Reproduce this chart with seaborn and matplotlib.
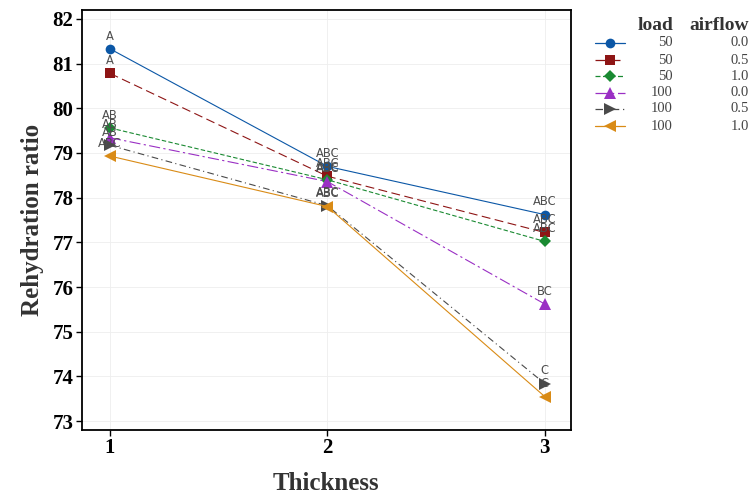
import matplotlib
matplotlib.use("Agg")
import matplotlib.pyplot as plt
from matplotlib.lines import Line2D
import seaborn as sns
import pandas as pd

thickness = [1, 2, 3]
loads = ["50", "50", "50", "100", "100", "100"]
airflows = ["0.0", "0.5", "1.0", "0.0", "0.5", "1.0"]
values = [
    [81.33, 78.70, 77.62],
    [80.78, 78.48, 77.22],
    [79.56, 78.40, 77.02],
    [79.34, 78.36, 75.62],
    [79.17, 77.82, 73.84],
    [78.93, 77.80, 73.55],
]
letters = [
    ["A", "ABC", "ABC"],
    ["A", "ABC", "ABC"],
    ["AB", "ABC", "ABC"],
    ["AB", "ABC", "BC"],
    ["AB", "ABC", "C"],
    ["ABC", "ABC", "C"],
]
colors = ["#0B57A6", "#8E1515", "#1A8A32", "#9A2FC4", "#4A4A4A", "#D98B16"]
markers = ["o", "s", "D", "^", ">", "<"]
msizes = [7, 7, 6, 8, 8, 8]
dash_styles = ["", (8, 4), (4, 2), (10, 3, 2, 3), (6, 3, 1, 3), ""]

rows = []
for i in range(6):
    for j, t in enumerate(thickness):
        rows.append({"series": i, "Thickness": t, "ratio": values[i][j], "lab": letters[i][j]})
df = pd.DataFrame(rows)

sns.set_theme(style="white")
plt.rcParams["font.family"] = ["DejaVu Sans"]

fig = plt.figure(figsize=(7.53, 4.96), dpi=100)
ax = fig.add_axes([0.1085, 0.133, 0.6495, 0.847])

palette = {i: colors[i] for i in range(6)}
sns.lineplot(data=df, x="Thickness", y="ratio", hue="series", style="series",
             palette=palette, markers={i: markers[i] for i in range(6)},
             dashes={i: dash_styles[i] for i in range(6)}, linewidth=0.8,
             markersize=7, markeredgewidth=0, legend=False, ax=ax, zorder=3)
for i, line in enumerate(ax.get_lines()[:6]):
    line.set_markersize(msizes[i])

for _, r in df.iterrows():
    ax.annotate(r["lab"], (r["Thickness"], r["ratio"]), xytext=(0, 4.5),
                textcoords="offset points", ha="center", va="bottom",
                fontsize=8.3, color="#4D4D4D", zorder=4)

ax.set_xlim(0.87, 3.12)
ax.set_ylim(72.8, 82.2)
ax.set_xticks(thickness)
ax.set_yticks(range(73, 83))
ax.grid(True, color="#EEEEEE", linewidth=0.6)
ax.set_axisbelow(True)
for s in ax.spines.values():
    s.set_color("black")
    s.set_linewidth(1.3)
ax.tick_params(axis="both", direction="out", length=4, width=1, color="black",
               labelsize=15, pad=2, bottom=True, left=True)
for lab in ax.get_xticklabels() + ax.get_yticklabels():
    lab.set_fontfamily("Liberation Serif")
    lab.set_fontweight("bold")
    lab.set_color("black")
ax.set_xlabel("Thickness", fontfamily="Liberation Serif", fontweight="bold",
              fontsize=18, color="#333333", labelpad=10)
ax.set_ylabel("Rehydration ratio", fontfamily="Liberation Serif", fontweight="bold",
              fontsize=18, color="#333333", labelpad=6)

# manual legend table
W, H = 753, 496
def fx(px): return px / W
def fy(py): return 1 - py / H

fig.text(fx(673), fy(26), "load", ha="right", va="center", fontfamily="Liberation Serif",
         fontweight="bold", fontsize=14, color="#333333")
fig.text(fx(749), fy(26), "airflow", ha="right", va="center", fontfamily="Liberation Serif",
         fontweight="bold", fontsize=14, color="#333333")
row_y = [43, 60, 76, 93, 109, 126]
for i in range(6):
    y = fy(row_y[i])
    ls = "-" if dash_styles[i] == "" else (0, dash_styles[i])
    fig.add_artist(Line2D([fx(595), fx(625)], [y, y], color=colors[i], linewidth=0.9,
                          linestyle=ls, transform=fig.transFigure))
    fig.add_artist(Line2D([fx(610)], [y], color=colors[i], marker=markers[i],
                          markersize=msizes[i], markeredgewidth=0, linestyle="none",
                          transform=fig.transFigure))
    fig.text(fx(673), y, loads[i], ha="right", va="center", fontfamily="Liberation Serif",
             fontsize=10.5, color="#444444")
    fig.text(fx(749), y, airflows[i], ha="right", va="center", fontfamily="Liberation Serif",
             fontsize=10.5, color="#444444")

fig.savefig("out.png", dpi=100)
